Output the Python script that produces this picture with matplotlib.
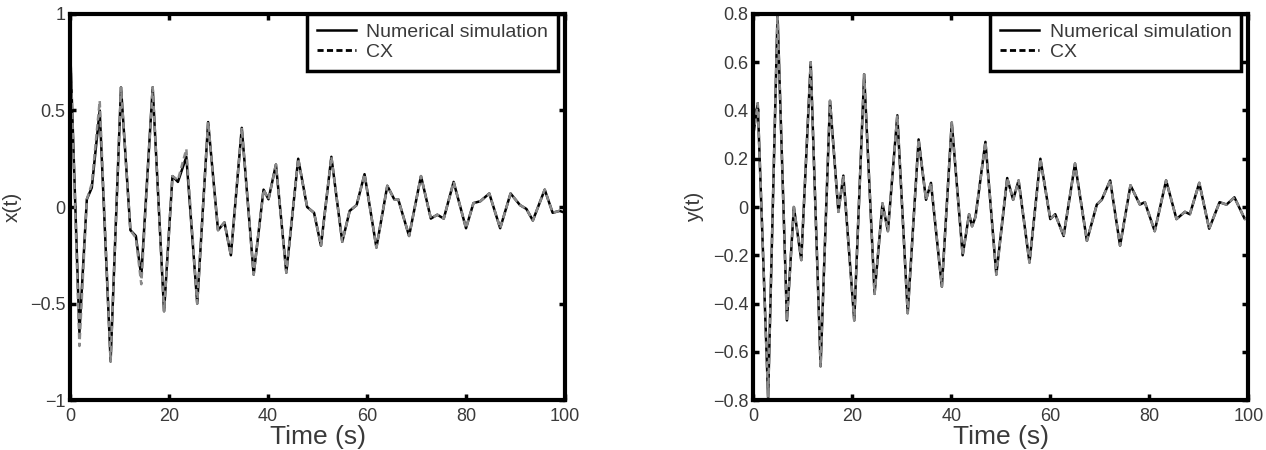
import matplotlib
matplotlib.use("Agg")
import matplotlib.pyplot as plt

# --- data (extrema / turning points) ---
t_x = [0, 1.9, 3.4, 4.4, 6.0, 8.2, 10.3, 12.2, 13.3, 14.4, 16.7, 19.0, 20.7, 21.8,
       23.5, 25.7, 27.9, 29.9, 31.2, 32.5, 34.7, 37.1, 39.1, 40.1, 41.6, 43.7, 46.1,
       47.9, 49.3, 50.7, 52.8, 55.0, 56.5, 57.9, 59.5, 61.9, 64.1, 65.5, 66.3, 68.5,
       70.9, 72.9, 74.2, 75.5, 77.5, 80.0, 81.5, 82.9, 84.7, 86.9, 89.0, 90.9, 92.2,
       93.5, 95.9, 97.5, 98.9, 100]
x_num = [0.85, -0.65, 0.04, 0.10, 0.50, -0.80, 0.62, -0.12, -0.15, -0.36, 0.62, -0.54,
         0.16, 0.13, 0.26, -0.50, 0.44, -0.12, -0.08, -0.25, 0.41, -0.35, 0.09, 0.04,
         0.22, -0.34, 0.25, 0.00, -0.03, -0.20, 0.26, -0.18, -0.02, 0.01, 0.17, -0.21,
         0.11, 0.04, 0.04, -0.15, 0.16, -0.06, -0.04, -0.06, 0.13, -0.11, 0.02, 0.03,
         0.07, -0.11, 0.07, 0.01, -0.01, -0.07, 0.09, -0.03, -0.02, -0.03]
x_cx = [0.85, -0.72, 0.04, 0.12, 0.55, -0.80, 0.62, -0.12, -0.16, -0.40, 0.62, -0.54,
        0.16, 0.14, 0.30, -0.50, 0.44, -0.12, -0.08, -0.25, 0.41, -0.35, 0.09, 0.04,
        0.22, -0.34, 0.25, 0.00, -0.03, -0.20, 0.26, -0.18, -0.02, 0.01, 0.17, -0.21,
        0.11, 0.04, 0.04, -0.15, 0.16, -0.06, -0.04, -0.06, 0.13, -0.11, 0.02, 0.03,
        0.07, -0.11, 0.07, 0.01, -0.01, -0.07, 0.09, -0.03, -0.02, -0.03]

t_y = [0, 0.9, 3.0, 4.9, 6.8, 8.2, 9.7, 11.6, 13.6, 15.5, 17.2, 18.2, 20.4, 22.4, 24.5,
       26.1, 27.2, 29.1, 31.2, 33.4, 34.9, 35.9, 38.1, 40.1, 42.3, 43.6, 44.2, 44.9,
       46.9, 49.1, 51.3, 52.5, 53.6, 55.8, 58.0, 60.0, 61.0, 62.7, 65.0, 67.4, 69.4,
       70.4, 72.1, 74.1, 76.2, 78.1, 79.1, 81.1, 83.4, 85.5, 87.2, 88.2, 90.1, 92.1,
       94.2, 95.6, 97.2, 99.3, 100]
y_num = [0.30, 0.43, -0.79, 0.80, -0.47, 0.00, -0.22, 0.60, -0.66, 0.44, -0.02, 0.13,
         -0.47, 0.55, -0.36, 0.015, -0.10, 0.38, -0.44, 0.28, 0.03, 0.10, -0.33, 0.35,
         -0.20, -0.03, -0.08, -0.04, 0.27, -0.28, 0.12, 0.03, 0.11, -0.23, 0.20, -0.05,
         -0.03, -0.12, 0.18, -0.14, 0.01, 0.03, 0.11, -0.16, 0.09, 0.01, 0.02, -0.10,
         0.11, -0.05, -0.02, -0.03, 0.10, -0.09, 0.02, 0.01, 0.04, -0.05, -0.04]
y_cx = list(y_num)

x_ticks = [0, 20, 40, 60, 80, 100]
left_yticks = [-1, -0.5, 0, 0.5, 1]
left_ylabels = ["\u22121", "\u22120.5", "0", "0.5", "1"]
right_yticks = [-0.8, -0.6, -0.4, -0.2, 0, 0.2, 0.4, 0.6, 0.8]
right_ylabels = ["\u22120.8", "\u22120.6", "\u22120.4", "\u22120.2", "0",
                 "0.2", "0.4", "0.6", "0.8"]

plt.rcParams['font.family'] = ['Liberation Sans', 'DejaVu Sans']
text_col = '#3a3a3a'

fig = plt.figure(figsize=(12.66, 4.5), dpi=100)
ax1 = fig.add_axes([0.0553, 0.111, 0.391, 0.858])
ax2 = fig.add_axes([0.595, 0.111, 0.391, 0.858])


def style_axis(ax, t, num, cx, yticks, ylabels, ylim, ylabel):
    ax.plot(t, num, color='black', lw=1.8, solid_joinstyle='round',
            label='Numerical simulation')
    ax.plot(t, cx, color='#8a8a8a', lw=1.8, linestyle=(0, (2.5, 1.5)),
            dash_joinstyle='round')
    # legend handle for CX is a black dashed line
    ax.plot([], [], color='black', lw=2, linestyle=(0, (2.2, 1.2)), label='CX')
    ax.set_xlim(0, 100)
    ax.set_ylim(*ylim)
    ax.set_xticks(x_ticks)
    ax.set_yticks(yticks)
    ax.set_yticklabels(ylabels)
    ax.tick_params(direction='in', length=4, width=2.5, top=True, right=True,
                   labelsize=13, labelcolor=text_col)
    ax.tick_params(axis='x', pad=6)
    for sp in ax.spines.values():
        sp.set_linewidth(3)
    ax.set_xlabel("Time (s)", fontsize=19, color=text_col, labelpad=0)
    ax.set_ylabel(ylabel, fontsize=15, color=text_col, labelpad=6)
    leg = ax.legend(loc='upper right', bbox_to_anchor=(0.986, 1.0),
                    borderaxespad=0, fancybox=False, framealpha=1,
                    edgecolor='black', fontsize=14, handlelength=2.0,
                    handletextpad=0.55, labelspacing=0.12, borderpad=0.5)
    leg.get_frame().set_linewidth(2.5)
    for txt in leg.get_texts():
        txt.set_color(text_col)


style_axis(ax1, t_x, x_num, x_cx, left_yticks, left_ylabels, (-1, 1), "x(t)")
style_axis(ax2, t_y, y_num, y_cx, right_yticks, right_ylabels, (-0.8, 0.8), "y(t)")

plt.savefig("out.png", dpi=100)
